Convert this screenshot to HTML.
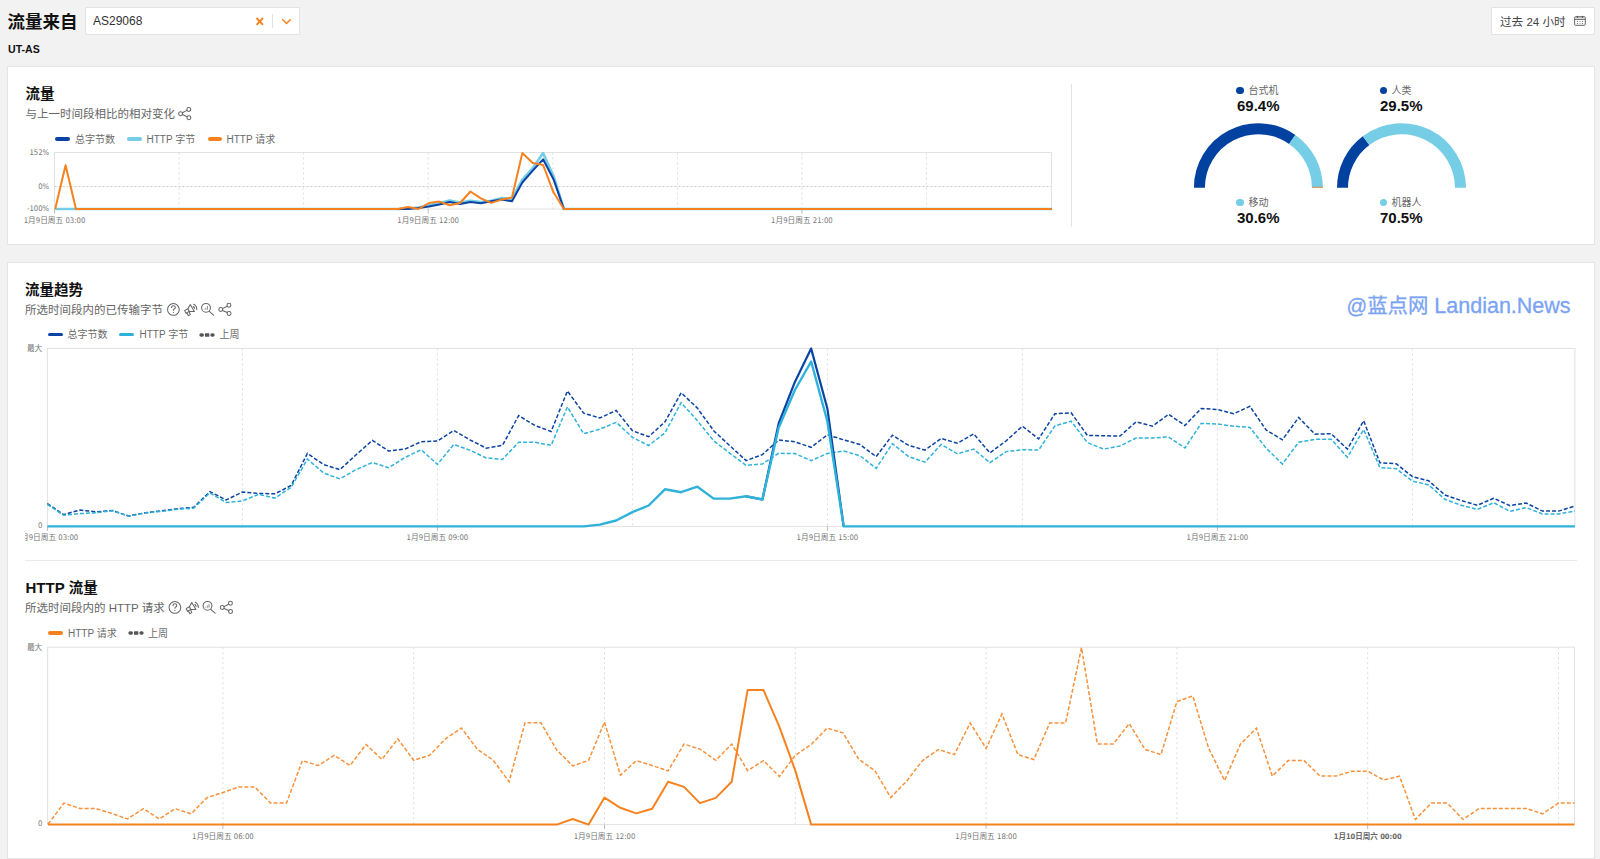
<!DOCTYPE html>
<html lang="zh-CN"><head><meta charset="utf-8"><title>流量来自 AS29068</title>
<style>
*{box-sizing:border-box;margin:0;padding:0}
html,body{width:1600px;height:859px;overflow:hidden;background:#f2f2f2;font-family:"Liberation Sans", "Noto Sans CJK SC", sans-serif;color:#222}
.abs{position:absolute;white-space:nowrap}
.card{position:absolute;left:7px;width:1588px;background:#fff;border:1px solid #e4e4e4}
.h1{font-size:17.5px;font-weight:bold;color:#111;line-height:18px}
.h2{font-size:14.5px;font-weight:bold;color:#111;line-height:14px}
.sub{font-size:11.5px;color:#666;line-height:12px}
.lg{font-size:10px;color:#6a6a6a;line-height:10px}
.sw{position:absolute;height:3.4px;border-radius:2px}
svg.main{position:absolute;left:0;top:0}
svg.main text.ax{font-family:"DejaVu Sans Condensed","DejaVu Sans","Noto Sans CJK SC",sans-serif;font-stretch:condensed;font-size:7.7px;fill:#767676}
svg.main text.ax.b{font-weight:bold;fill:#666;font-size:7.5px}
svg.ic{position:absolute;fill:none;stroke:#555;stroke-width:1.1;stroke-linecap:round;stroke-linejoin:round}
.gl{font-size:10px;color:#666;line-height:10px}
.gv{font-size:15px;font-weight:bold;color:#111;line-height:15px}
.dot{display:inline-block;width:7.5px;height:7.5px;border-radius:50%;margin-right:4.5px;vertical-align:0px}
</style></head><body>
<div class="abs h1" style="left:7.5px;top:13px">流量来自</div>
<div class="abs" style="left:85px;top:7px;width:215px;height:27.5px;background:#fff;border:1px solid #e2e2e2;border-radius:1px"></div>
<div class="abs" style="left:93px;top:14.5px;font-size:12px;line-height:12px;color:#333">AS29068</div>
<svg class="abs" style="left:255px;top:17px" width="10" height="9" viewBox="0 0 10 9"><path d="M1.5 1 L8 7.8 M8 1 L1.5 7.8" stroke="#f6821f" stroke-width="1.9"/></svg>
<div class="abs" style="left:272px;top:13.5px;width:1px;height:14px;background:#e2e2e2"></div>
<svg class="abs" style="left:281px;top:17.5px" width="11" height="7" viewBox="0 0 11 7"><path d="M1.2 1.2 L5.5 5.5 L9.8 1.2" stroke="#f6821f" stroke-width="1.5" fill="none"/></svg>
<div class="abs" style="left:8px;top:44px;font-size:10.6px;font-weight:bold;line-height:11px;color:#111">UT-AS</div>
<div class="abs" style="left:1490.5px;top:7px;width:104px;height:27.5px;background:#fff;border:1px solid #e2e2e2;border-radius:1px"></div>
<div class="abs" style="left:1500px;top:15.6px;font-size:11.6px;line-height:12px;color:#444">过去 24 小时</div>
<div class="card" style="top:66px;height:179px"></div>
<div class="card" style="top:262px;height:597px"></div>
<div class="abs" style="left:1071px;top:84px;width:1px;height:142.5px;background:#e3e3e3"></div>
<div class="abs" style="left:25px;top:559.5px;width:1552px;height:1px;background:#ebebeb"></div>

<div class="abs h2" style="left:25.5px;top:86.8px">流量</div>
<div class="abs sub" style="left:25.5px;top:108.3px">与上一时间段相比的相对变化</div>
<div class="sw" style="left:55px;top:137.3px;width:15px;background:#0a43a3"></div>
<div class="abs lg" style="left:75px;top:135px">总字节数</div>
<div class="sw" style="left:127px;top:137.3px;width:15px;background:#76cde6"></div>
<div class="abs lg" style="left:146.5px;top:135px">HTTP 字节</div>
<div class="sw" style="left:207.5px;top:137.3px;width:14px;background:#f6821f"></div>
<div class="abs lg" style="left:226.5px;top:135px">HTTP 请求</div>

<div class="abs h2" style="left:25px;top:282.8px">流量趋势</div>
<div class="abs sub" style="left:25px;top:304.3px">所选时间段内的已传输字节</div>
<div class="sw" style="left:47.5px;top:332.8px;width:15px;background:#0a43a3"></div>
<div class="abs lg" style="left:67.5px;top:330.3px">总字节数</div>
<div class="sw" style="left:119px;top:332.8px;width:15px;background:#2eb2da"></div>
<div class="abs lg" style="left:139.5px;top:330.3px">HTTP 字节</div>
<svg class="abs" style="left:199px;top:332.6px" width="16" height="4" viewBox="0 0 16 4"><rect x="0.3" y="0.2" width="4.7" height="3.6" rx="1.8" fill="#555"/><rect x="6" y="0.2" width="4.3" height="3.6" rx="0.6" fill="#555"/><rect x="11.3" y="0.2" width="4.4" height="3.6" rx="1.8" fill="#555"/></svg>
<div class="abs lg" style="left:219.5px;top:330.3px">上周</div>

<div class="abs h2" style="left:25.5px;top:580.8px"><span style="font-size:15px">HTTP</span> 流量</div>
<div class="abs sub" style="left:25px;top:602px">所选时间段内的 HTTP 请求</div>
<div class="sw" style="left:48px;top:631.2px;width:14.5px;background:#f6821f"></div>
<div class="abs lg" style="left:68px;top:629px">HTTP 请求</div>
<svg class="abs" style="left:127.8px;top:631px" width="16" height="4" viewBox="0 0 16 4"><rect x="0.3" y="0.2" width="4.7" height="3.6" rx="1.8" fill="#555"/><rect x="6" y="0.2" width="4.3" height="3.6" rx="0.6" fill="#555"/><rect x="11.3" y="0.2" width="4.4" height="3.6" rx="1.8" fill="#555"/></svg>
<div class="abs lg" style="left:148px;top:629px">上周</div>

<svg class="main" width="1600" height="859" viewBox="0 0 1600 859">
<defs><clipPath id="c2c"><rect x="25" y="528" width="1560" height="20"/></clipPath></defs>
<rect x="54.5" y="152.5" width="997.0" height="56.5" fill="none" stroke="#e2e2e2" stroke-width="1"/>
<line x1="179.1" y1="152.5" x2="179.1" y2="209.0" stroke="#dcdcdc" stroke-dasharray="2 3"/>
<line x1="303.6" y1="152.5" x2="303.6" y2="209.0" stroke="#dcdcdc" stroke-dasharray="2 3"/>
<line x1="428.2" y1="152.5" x2="428.2" y2="209.0" stroke="#dcdcdc" stroke-dasharray="2 3"/>
<line x1="552.8" y1="152.5" x2="552.8" y2="209.0" stroke="#dcdcdc" stroke-dasharray="2 3"/>
<line x1="677.4" y1="152.5" x2="677.4" y2="209.0" stroke="#dcdcdc" stroke-dasharray="2 3"/>
<line x1="801.9" y1="152.5" x2="801.9" y2="209.0" stroke="#dcdcdc" stroke-dasharray="2 3"/>
<line x1="926.5" y1="152.5" x2="926.5" y2="209.0" stroke="#dcdcdc" stroke-dasharray="2 3"/>
<line x1="54.5" y1="186.5" x2="1051.5" y2="186.5" stroke="#c8c8c8" stroke-dasharray="2 2"/>
<line x1="54.5" y1="209.0" x2="54.5" y2="213.5" stroke="#bbb"/>
<line x1="428.2" y1="209.0" x2="428.2" y2="213.5" stroke="#bbb"/>
<line x1="801.9" y1="209.0" x2="801.9" y2="213.5" stroke="#bbb"/>
<polyline points="55.20,209.00 65.58,209.00 75.96,209.00 86.34,209.00 96.72,209.00 107.11,209.00 117.49,209.00 127.87,209.00 138.25,209.00 148.63,209.00 159.01,209.00 169.39,209.00 179.77,209.00 190.15,209.00 200.53,209.00 210.92,209.00 221.30,209.00 231.68,209.00 242.06,209.00 252.44,209.00 262.82,209.00 273.20,209.00 283.58,209.00 293.96,209.00 304.34,209.00 314.72,209.00 325.11,209.00 335.49,209.00 345.87,209.00 356.25,209.00 366.63,209.00 377.01,209.00 387.39,209.00 397.77,209.00 408.15,208.50 418.54,207.50 428.92,205.00 439.30,203.00 449.68,200.40 460.06,202.50 470.44,200.80 480.82,202.00 491.20,200.80 501.58,198.00 511.96,198.80 522.35,179.60 532.73,168.20 543.11,153.10 553.49,176.00 563.87,209.00 574.25,209.00 584.63,209.00 595.01,209.00 605.39,209.00 615.77,209.00 626.16,209.00 636.54,209.00 646.92,209.00 657.30,209.00 667.68,209.00 678.06,209.00 688.44,209.00 698.82,209.00 709.20,209.00 719.58,209.00 729.97,209.00 740.35,209.00 750.73,209.00 761.11,209.00 771.49,209.00 781.87,209.00 792.25,209.00 802.63,209.00 813.01,209.00 823.39,209.00 833.78,209.00 844.16,209.00 854.54,209.00 864.92,209.00 875.30,209.00 885.68,209.00 896.06,209.00 906.44,209.00 916.82,209.00 927.20,209.00 937.59,209.00 947.97,209.00 958.35,209.00 968.73,209.00 979.11,209.00 989.49,209.00 999.87,209.00 1010.25,209.00 1020.63,209.00 1031.01,209.00 1041.39,209.00 1051.78,209.00" fill="none" stroke="#76cde6" stroke-width="2.6" stroke-linejoin="round"/>
<polyline points="75.96,209.00 86.34,209.00 96.72,209.00 107.11,209.00 117.49,209.00 127.87,209.00 138.25,209.00 148.63,209.00 159.01,209.00 169.39,209.00 179.77,209.00 190.15,209.00 200.53,209.00 210.92,209.00 221.30,209.00 231.68,209.00 242.06,209.00 252.44,209.00 262.82,209.00 273.20,209.00 283.58,209.00 293.96,209.00 304.34,209.00 314.72,209.00 325.11,209.00 335.49,209.00 345.87,209.00 356.25,209.00 366.63,209.00 377.01,209.00 387.39,209.00 397.77,209.00 408.15,209.00 418.54,208.00 428.92,206.50 439.30,204.50 449.68,202.00 460.06,204.00 470.44,202.00 480.82,203.30 491.20,201.20 501.58,199.60 511.96,201.20 522.35,182.50 532.73,170.70 543.11,159.30 553.49,179.20 563.87,209.00 574.25,209.00 584.63,209.00 595.01,209.00 605.39,209.00 615.77,209.00 626.16,209.00 636.54,209.00 646.92,209.00 657.30,209.00 667.68,209.00 678.06,209.00 688.44,209.00 698.82,209.00 709.20,209.00 719.58,209.00 729.97,209.00 740.35,209.00 750.73,209.00 761.11,209.00 771.49,209.00 781.87,209.00 792.25,209.00 802.63,209.00 813.01,209.00 823.39,209.00 833.78,209.00 844.16,209.00 854.54,209.00 864.92,209.00 875.30,209.00 885.68,209.00 896.06,209.00 906.44,209.00 916.82,209.00 927.20,209.00 937.59,209.00 947.97,209.00 958.35,209.00 968.73,209.00 979.11,209.00 989.49,209.00 999.87,209.00 1010.25,209.00 1020.63,209.00 1031.01,209.00 1041.39,209.00 1051.78,209.00" fill="none" stroke="#0a43a3" stroke-width="2" stroke-linejoin="round"/>
<polyline points="55.20,209.00 65.58,165.20 75.96,209.00 86.34,209.00 96.72,209.00 107.11,209.00 117.49,209.00 127.87,209.00 138.25,209.00 148.63,209.00 159.01,209.00 169.39,209.00 179.77,209.00 190.15,209.00 200.53,209.00 210.92,209.00 221.30,209.00 231.68,209.00 242.06,209.00 252.44,209.00 262.82,209.00 273.20,209.00 283.58,209.00 293.96,209.00 304.34,209.00 314.72,209.00 325.11,209.00 335.49,209.00 345.87,209.00 356.25,209.00 366.63,209.00 377.01,209.00 387.39,209.00 397.77,209.00 408.15,207.00 418.54,209.00 428.92,203.00 439.30,201.60 449.68,205.30 460.06,203.00 470.44,191.50 480.82,198.40 491.20,202.90 501.58,199.60 511.96,197.60 522.35,153.10 532.73,162.90 543.11,165.00 553.49,192.30 563.87,209.00 574.25,209.00 584.63,209.00 595.01,209.00 605.39,209.00 615.77,209.00 626.16,209.00 636.54,209.00 646.92,209.00 657.30,209.00 667.68,209.00 678.06,209.00 688.44,209.00 698.82,209.00 709.20,209.00 719.58,209.00 729.97,209.00 740.35,209.00 750.73,209.00 761.11,209.00 771.49,209.00 781.87,209.00 792.25,209.00 802.63,209.00 813.01,209.00 823.39,209.00 833.78,209.00 844.16,209.00 854.54,209.00 864.92,209.00 875.30,209.00 885.68,209.00 896.06,209.00 906.44,209.00 916.82,209.00 927.20,209.00 937.59,209.00 947.97,209.00 958.35,209.00 968.73,209.00 979.11,209.00 989.49,209.00 999.87,209.00 1010.25,209.00 1020.63,209.00 1031.01,209.00 1041.39,209.00 1051.78,209.00" fill="none" stroke="#f6821f" stroke-width="2" stroke-linejoin="round"/>
<text x="49.2" y="155.2" text-anchor="end" class="ax">152%</text>
<text x="49.2" y="188.9" text-anchor="end" class="ax">0%</text>
<text x="49.2" y="211.3" text-anchor="end" class="ax">-100%</text>
<text x="54.5" y="223.3" text-anchor="middle" class="ax">1月9日周五 03:00</text>
<text x="428.2" y="223.3" text-anchor="middle" class="ax">1月9日周五 12:00</text>
<text x="801.9" y="223.3" text-anchor="middle" class="ax">1月9日周五 21:00</text>
<rect x="47.4" y="348.4" width="1527.5" height="178.0" fill="none" stroke="#e2e2e2"/>
<line x1="242.4" y1="348.4" x2="242.4" y2="526.4" stroke="#dcdcdc" stroke-dasharray="2 3"/>
<line x1="437.4" y1="348.4" x2="437.4" y2="526.4" stroke="#dcdcdc" stroke-dasharray="2 3"/>
<line x1="632.4" y1="348.4" x2="632.4" y2="526.4" stroke="#dcdcdc" stroke-dasharray="2 3"/>
<line x1="827.4" y1="348.4" x2="827.4" y2="526.4" stroke="#dcdcdc" stroke-dasharray="2 3"/>
<line x1="1022.4" y1="348.4" x2="1022.4" y2="526.4" stroke="#dcdcdc" stroke-dasharray="2 3"/>
<line x1="1217.4" y1="348.4" x2="1217.4" y2="526.4" stroke="#dcdcdc" stroke-dasharray="2 3"/>
<line x1="1412.4" y1="348.4" x2="1412.4" y2="526.4" stroke="#dcdcdc" stroke-dasharray="2 3"/>
<line x1="47.4" y1="526.4" x2="47.4" y2="530.9" stroke="#bbb"/>
<line x1="437.4" y1="526.4" x2="437.4" y2="530.9" stroke="#bbb"/>
<line x1="827.4" y1="526.4" x2="827.4" y2="530.9" stroke="#bbb"/>
<line x1="1217.4" y1="526.4" x2="1217.4" y2="530.9" stroke="#bbb"/>
<polyline points="47.40,503.50 63.65,514.60 79.90,510.00 96.15,511.90 112.40,510.60 128.65,516.00 144.90,512.80 161.15,510.90 177.40,508.70 193.65,507.40 209.90,491.60 226.15,500.00 242.40,492.00 258.65,493.50 274.90,493.80 291.15,485.50 307.40,453.40 323.65,464.60 339.90,469.60 356.15,454.70 372.40,440.40 388.65,451.00 404.90,449.10 421.15,441.70 437.40,441.10 453.65,430.50 469.90,439.80 486.15,448.20 502.40,445.40 518.65,415.60 534.90,425.50 551.15,431.50 567.40,391.00 583.65,413.20 599.90,418.00 616.15,410.40 632.40,430.70 648.65,436.70 664.90,421.90 681.15,392.70 697.40,408.10 713.65,430.70 729.90,445.80 746.15,460.60 762.40,454.60 778.65,440.00 794.90,441.80 811.15,447.30 827.40,434.80 843.65,439.80 859.90,444.50 876.15,456.60 892.40,435.20 908.65,445.40 924.90,450.10 941.15,438.50 957.40,443.20 973.65,433.90 989.90,452.90 1006.15,440.80 1022.40,426.20 1038.65,438.90 1054.90,413.80 1071.15,412.80 1087.40,435.50 1103.65,435.70 1119.90,436.10 1136.15,421.80 1152.40,426.20 1168.65,414.30 1184.90,425.50 1201.15,408.50 1217.40,409.50 1233.65,413.80 1249.90,406.30 1266.15,430.00 1282.40,439.80 1298.65,417.50 1314.90,434.20 1331.15,433.70 1347.40,449.10 1363.65,420.70 1379.90,462.70 1396.15,463.70 1412.40,476.60 1428.65,480.80 1444.90,495.00 1461.15,500.50 1477.40,505.30 1493.65,498.20 1509.90,505.60 1526.15,503.00 1542.40,511.10 1558.65,511.10 1574.90,506.10" fill="none" stroke="#0a43a3" stroke-width="1.5" stroke-dasharray="4 2"/>
<polyline points="47.40,504.30 63.65,515.30 79.90,513.60 96.15,512.70 112.40,510.60 128.65,516.20 144.90,513.00 161.15,511.40 177.40,509.30 193.65,508.20 209.90,492.90 226.15,502.60 242.40,500.90 258.65,494.40 274.90,498.10 291.15,487.30 307.40,459.00 323.65,473.00 339.90,478.90 356.15,469.60 372.40,462.50 388.65,467.80 404.90,457.50 421.15,449.70 437.40,464.40 453.65,444.50 469.90,450.10 486.15,457.90 502.40,459.40 518.65,442.30 534.90,442.30 551.15,445.40 567.40,406.90 583.65,433.70 599.90,429.20 616.15,422.30 632.40,437.30 648.65,445.50 664.90,432.90 681.15,402.60 697.40,420.80 713.65,440.70 729.90,453.30 746.15,465.40 762.40,463.90 778.65,453.30 794.90,453.50 811.15,460.70 827.40,453.40 843.65,451.00 859.90,455.70 876.15,468.30 892.40,443.60 908.65,456.60 924.90,462.20 941.15,444.50 957.40,453.80 973.65,449.10 989.90,462.70 1006.15,451.60 1022.40,449.70 1038.65,450.10 1054.90,425.90 1071.15,421.20 1087.40,442.60 1103.65,449.10 1119.90,446.00 1136.15,438.00 1152.40,438.00 1168.65,437.00 1184.90,448.00 1201.15,423.40 1217.40,424.00 1233.65,426.20 1249.90,427.40 1266.15,448.20 1282.40,464.00 1298.65,442.30 1314.90,439.30 1331.15,439.30 1347.40,457.20 1363.65,429.60 1379.90,467.60 1396.15,468.70 1412.40,481.10 1428.65,484.90 1444.90,499.30 1461.15,505.30 1477.40,509.40 1493.65,502.70 1509.90,511.40 1526.15,507.60 1542.40,513.90 1558.65,513.90 1574.90,511.10" fill="none" stroke="#2eb2da" stroke-width="1.5" stroke-dasharray="4 2"/>
<polyline points="746.15,496.30 762.40,499.50 778.65,423.50 794.90,381.90 811.15,348.60 827.40,408.70 843.65,526.40" fill="none" stroke="#0a43a3" stroke-width="2.2" stroke-linejoin="round"/>
<polyline points="47.40,526.40 63.65,526.40 79.90,526.40 96.15,526.40 112.40,526.40 128.65,526.40 144.90,526.40 161.15,526.40 177.40,526.40 193.65,526.40 209.90,526.40 226.15,526.40 242.40,526.40 258.65,526.40 274.90,526.40 291.15,526.40 307.40,526.40 323.65,526.40 339.90,526.40 356.15,526.40 372.40,526.40 388.65,526.40 404.90,526.40 421.15,526.40 437.40,526.40 453.65,526.40 469.90,526.40 486.15,526.40 502.40,526.40 518.65,526.40 534.90,526.40 551.15,526.40 567.40,526.40 583.65,526.40 599.90,524.60 616.15,520.50 632.40,512.10 648.65,505.50 664.90,489.30 681.15,492.20 697.40,486.70 713.65,498.60 729.90,498.60 746.15,496.30 762.40,499.50 778.65,427.80 794.90,390.00 811.15,361.50 827.40,421.50 843.65,526.40 859.90,526.40 876.15,526.40 892.40,526.40 908.65,526.40 924.90,526.40 941.15,526.40 957.40,526.40 973.65,526.40 989.90,526.40 1006.15,526.40 1022.40,526.40 1038.65,526.40 1054.90,526.40 1071.15,526.40 1087.40,526.40 1103.65,526.40 1119.90,526.40 1136.15,526.40 1152.40,526.40 1168.65,526.40 1184.90,526.40 1201.15,526.40 1217.40,526.40 1233.65,526.40 1249.90,526.40 1266.15,526.40 1282.40,526.40 1298.65,526.40 1314.90,526.40 1331.15,526.40 1347.40,526.40 1363.65,526.40 1379.90,526.40 1396.15,526.40 1412.40,526.40 1428.65,526.40 1444.90,526.40 1461.15,526.40 1477.40,526.40 1493.65,526.40 1509.90,526.40 1526.15,526.40 1542.40,526.40 1558.65,526.40 1574.90,526.40" fill="none" stroke="#2eb2da" stroke-width="2.4" stroke-linejoin="round"/>
<text x="42.3" y="351" text-anchor="end" class="ax">最大</text>
<text x="42.3" y="527.8" text-anchor="end" class="ax">0</text>
<text x="47.4" y="540.3" text-anchor="middle" class="ax" clip-path="url(#c2c)">1月9日周五 03:00</text>
<text x="437.4" y="540.3" text-anchor="middle" class="ax" clip-path="url(#c2c)">1月9日周五 09:00</text>
<text x="827.4" y="540.3" text-anchor="middle" class="ax" clip-path="url(#c2c)">1月9日周五 15:00</text>
<text x="1217.4" y="540.3" text-anchor="middle" class="ax" clip-path="url(#c2c)">1月9日周五 21:00</text>
<rect x="47.6" y="647.2" width="1526.9" height="177.39999999999998" fill="none" stroke="#e2e2e2"/>
<line x1="222.9" y1="647.2" x2="222.9" y2="824.6" stroke="#dcdcdc" stroke-dasharray="2 3"/>
<line x1="413.7" y1="647.2" x2="413.7" y2="824.6" stroke="#dcdcdc" stroke-dasharray="2 3"/>
<line x1="604.5" y1="647.2" x2="604.5" y2="824.6" stroke="#dcdcdc" stroke-dasharray="2 3"/>
<line x1="795.3" y1="647.2" x2="795.3" y2="824.6" stroke="#dcdcdc" stroke-dasharray="2 3"/>
<line x1="986.1" y1="647.2" x2="986.1" y2="824.6" stroke="#dcdcdc" stroke-dasharray="2 3"/>
<line x1="1176.9" y1="647.2" x2="1176.9" y2="824.6" stroke="#dcdcdc" stroke-dasharray="2 3"/>
<line x1="1367.7" y1="647.2" x2="1367.7" y2="824.6" stroke="#dcdcdc" stroke-dasharray="2 3"/>
<line x1="1558.5" y1="647.2" x2="1558.5" y2="824.6" stroke="#dcdcdc" stroke-dasharray="2 3"/>
<line x1="222.9" y1="824.6" x2="222.9" y2="829.1" stroke="#bbb"/>
<line x1="604.5" y1="824.6" x2="604.5" y2="829.1" stroke="#bbb"/>
<line x1="986.1" y1="824.6" x2="986.1" y2="829.1" stroke="#bbb"/>
<line x1="1367.7" y1="824.6" x2="1367.7" y2="829.1" stroke="#bbb"/>
<polyline points="48.00,824.20 63.90,803.10 79.80,808.40 95.70,808.40 111.60,813.40 127.50,819.00 143.40,808.70 159.30,819.00 175.20,808.70 191.10,813.80 207.00,797.60 222.90,792.50 238.80,786.90 254.70,786.90 270.60,803.10 286.50,803.10 302.40,760.70 318.30,765.50 334.20,755.30 350.10,765.50 366.00,744.50 381.90,759.40 397.80,738.90 413.70,760.30 429.60,755.30 445.50,738.90 461.40,728.10 477.30,749.10 493.20,760.30 509.10,781.70 525.00,722.70 540.90,722.70 556.80,750.10 572.70,765.90 588.60,760.30 604.50,722.10 620.40,775.20 636.30,760.70 652.20,765.50 668.10,770.90 684.00,744.10 699.90,749.10 715.80,760.30 731.70,744.10 747.60,770.60 763.50,760.70 779.40,776.50 795.30,755.30 811.20,744.50 827.10,728.10 843.00,732.90 858.90,759.50 874.80,770.50 890.70,797.50 906.60,781.20 922.50,760.60 938.40,749.50 954.30,754.60 970.20,723.00 986.10,748.40 1002.00,714.00 1017.90,754.60 1033.80,759.50 1049.70,723.00 1065.60,723.00 1081.50,647.70 1097.40,744.00 1113.30,744.00 1129.20,723.60 1145.10,749.50 1161.00,754.60 1176.90,701.50 1192.80,696.00 1208.70,748.40 1224.60,780.50 1240.50,744.00 1256.40,728.10 1272.30,776.10 1288.20,760.60 1304.10,760.60 1320.00,776.10 1335.90,776.10 1351.80,771.20 1367.70,771.20 1383.60,780.00 1399.50,776.20 1415.40,819.40 1431.30,803.10 1447.20,803.10 1463.10,819.40 1479.00,808.60 1494.90,808.60 1510.80,808.60 1526.70,808.60 1542.60,813.80 1558.50,803.10 1574.40,803.10" fill="none" stroke="#f6821f" stroke-width="1.5" stroke-dasharray="4 2" opacity="0.88"/>
<polyline points="48.00,824.60 63.90,824.60 79.80,824.60 95.70,824.60 111.60,824.60 127.50,824.60 143.40,824.60 159.30,824.60 175.20,824.60 191.10,824.60 207.00,824.60 222.90,824.60 238.80,824.60 254.70,824.60 270.60,824.60 286.50,824.60 302.40,824.60 318.30,824.60 334.20,824.60 350.10,824.60 366.00,824.60 381.90,824.60 397.80,824.60 413.70,824.60 429.60,824.60 445.50,824.60 461.40,824.60 477.30,824.60 493.20,824.60 509.10,824.60 525.00,824.60 540.90,824.60 556.80,824.60 572.70,819.00 588.60,824.60 604.50,797.60 620.40,807.80 636.30,813.40 652.20,808.70 668.10,781.70 684.00,786.90 699.90,803.10 715.80,797.90 731.70,781.70 747.60,690.10 763.50,690.10 779.40,726.80 795.30,770.60 811.20,824.60 827.10,824.60 843.00,824.60 858.90,824.60 874.80,824.60 890.70,824.60 906.60,824.60 922.50,824.60 938.40,824.60 954.30,824.60 970.20,824.60 986.10,824.60 1002.00,824.60 1017.90,824.60 1033.80,824.60 1049.70,824.60 1065.60,824.60 1081.50,824.60 1097.40,824.60 1113.30,824.60 1129.20,824.60 1145.10,824.60 1161.00,824.60 1176.90,824.60 1192.80,824.60 1208.70,824.60 1224.60,824.60 1240.50,824.60 1256.40,824.60 1272.30,824.60 1288.20,824.60 1304.10,824.60 1320.00,824.60 1335.90,824.60 1351.80,824.60 1367.70,824.60 1383.60,824.60 1399.50,824.60 1415.40,824.60 1431.30,824.60 1447.20,824.60 1463.10,824.60 1479.00,824.60 1494.90,824.60 1510.80,824.60 1526.70,824.60 1542.60,824.60 1558.50,824.60 1574.40,824.60" fill="none" stroke="#f6821f" stroke-width="2" stroke-linejoin="round"/>
<text x="42.3" y="649.6" text-anchor="end" class="ax">最大</text>
<text x="42.3" y="826.3" text-anchor="end" class="ax">0</text>
<text x="222.9" y="839.3" text-anchor="middle" class="ax">1月9日周五 06:00</text>
<text x="604.5" y="839.3" text-anchor="middle" class="ax">1月9日周五 12:00</text>
<text x="986.1" y="839.3" text-anchor="middle" class="ax">1月9日周五 18:00</text>
<text x="1367.7" y="839.3" text-anchor="middle" class="ax b">1月10日周六 00:00</text>
<path d="M1199.40,187.80 A59.0,59.0 0 0 1 1292.17,139.42" fill="none" stroke="#0141a0" stroke-width="11.0"/>
<path d="M1292.17,139.42 A59.0,59.0 0 0 1 1317.40,187.80" fill="none" stroke="#76cde6" stroke-width="11.0"/>
<path d="M1342.50,187.80 A59.0,59.0 0 0 1 1366.08,140.62" fill="none" stroke="#0141a0" stroke-width="11.0"/>
<path d="M1366.08,140.62 A59.0,59.0 0 0 1 1460.50,187.80" fill="none" stroke="#76cde6" stroke-width="11.0"/>
<line x1="1312" y1="187.3" x2="1323" y2="187.3" stroke="#f6821f" stroke-width="1" opacity="0.8"/>
<g fill="none" stroke="#666" stroke-width="1"><rect x="1574.6" y="16.7" width="10.7" height="8.6" rx="0.9"/><path d="M1574.6,19.4 H1585.3" /><path d="M1574.6,17.8 H1585.3" stroke="#aaa"/></g><g fill="#555"><rect x="1576.9" y="15.7" width="1" height="2.3" rx="0.5"/><rect x="1582" y="15.7" width="1" height="2.3" rx="0.5"/><circle cx="1577.4" cy="21.5" r="0.55"/><circle cx="1582.5" cy="21.5" r="0.55"/><circle cx="1577.4" cy="23.5" r="0.55"/><circle cx="1582.5" cy="23.5" r="0.55"/><rect x="1579.3" y="21.1" width="1.5" height="0.8" fill="#999"/><rect x="1579.3" y="23.1" width="1.5" height="0.8" fill="#999"/></g>
<g transform="translate(0,0)"><g fill="none" stroke="#666" stroke-width="1.05" stroke-linecap="round" stroke-linejoin="round"><circle cx="173.4" cy="309.4" r="5.85"/><path d="M171.5,307.6 Q171.6,305.8 173.4,305.8 Q175.3,305.8 175.3,307.4 Q175.3,308.4 174.2,308.9 Q173.4,309.3 173.4,310.3"/></g><circle cx="173.4" cy="312.3" r="0.65" fill="#666"/><g fill="none" stroke="#666" stroke-width="1.05" stroke-linecap="round" stroke-linejoin="round"><path d="M190.3,304.6 L194.4,311.5 L189.2,311.4 L187.9,308.7 Z"/><path d="M187.9,308.7 L184.6,310.6 L186.1,313.4 L189.2,311.4"/><path d="M186.8,313 L188.4,315.6 L190.3,314.6 L189.2,312"/><path d="M193.3,306.5 Q194.6,307.3 194.6,308.5"/><path d="M193.7,304.2 Q196.8,305.6 196.8,309.4"/></g><g fill="none" stroke="#666" stroke-width="1.05" stroke-linecap="round" stroke-linejoin="round"><circle cx="206" cy="307.8" r="4.4"/><path d="M209.3,311.3 L213.6,315.2"/></g><path d="M204.3,309.7 V309 M205.9,309.7 V307.6 M207.5,309.7 V306" stroke="#777" stroke-width="0.8"/><g fill="none" stroke="#666" stroke-width="1.05" stroke-linecap="round" stroke-linejoin="round"><circle cx="220.75" cy="309.5" r="1.95"/><circle cx="228.95" cy="305.3" r="1.95"/><circle cx="229.05" cy="313.5" r="1.95"/><path d="M222.55,308.6 L227.15,306.2 M222.55,310.4 L227.25,312.6"/></g></g>
<g transform="translate(1.5,298)"><g fill="none" stroke="#666" stroke-width="1.05" stroke-linecap="round" stroke-linejoin="round"><circle cx="173.4" cy="309.4" r="5.85"/><path d="M171.5,307.6 Q171.6,305.8 173.4,305.8 Q175.3,305.8 175.3,307.4 Q175.3,308.4 174.2,308.9 Q173.4,309.3 173.4,310.3"/></g><circle cx="173.4" cy="312.3" r="0.65" fill="#666"/><g fill="none" stroke="#666" stroke-width="1.05" stroke-linecap="round" stroke-linejoin="round"><path d="M190.3,304.6 L194.4,311.5 L189.2,311.4 L187.9,308.7 Z"/><path d="M187.9,308.7 L184.6,310.6 L186.1,313.4 L189.2,311.4"/><path d="M186.8,313 L188.4,315.6 L190.3,314.6 L189.2,312"/><path d="M193.3,306.5 Q194.6,307.3 194.6,308.5"/><path d="M193.7,304.2 Q196.8,305.6 196.8,309.4"/></g><g fill="none" stroke="#666" stroke-width="1.05" stroke-linecap="round" stroke-linejoin="round"><circle cx="206" cy="307.8" r="4.4"/><path d="M209.3,311.3 L213.6,315.2"/></g><path d="M204.3,309.7 V309 M205.9,309.7 V307.6 M207.5,309.7 V306" stroke="#777" stroke-width="0.8"/><g fill="none" stroke="#666" stroke-width="1.05" stroke-linecap="round" stroke-linejoin="round"><circle cx="220.75" cy="309.5" r="1.95"/><circle cx="228.95" cy="305.3" r="1.95"/><circle cx="229.05" cy="313.5" r="1.95"/><path d="M222.55,308.6 L227.15,306.2 M222.55,310.4 L227.25,312.6"/></g></g>
<g fill="none" stroke="#666" stroke-width="1.05" stroke-linecap="round" stroke-linejoin="round"><circle cx="180.6" cy="113.7" r="1.95"/><circle cx="188.79999999999998" cy="109.5" r="1.95"/><circle cx="188.9" cy="117.7" r="1.95"/><path d="M182.4,112.8 L187.0,110.4 M182.4,114.60000000000001 L187.1,116.8"/></g>
</svg>

<div class="abs gl" style="left:1236.4px;top:86px"><span class="dot" style="background:#0141a0"></span>台式机</div>
<div class="abs gv" style="left:1237px;top:97.5px">69.4%</div>
<div class="abs gl" style="left:1236.4px;top:198px"><span class="dot" style="background:#76cde6"></span>移动</div>
<div class="abs gv" style="left:1237px;top:210px">30.6%</div>
<div class="abs gl" style="left:1379.5px;top:86px"><span class="dot" style="background:#0141a0"></span>人类</div>
<div class="abs gv" style="left:1380px;top:97.5px">29.5%</div>
<div class="abs gl" style="left:1379.5px;top:198px"><span class="dot" style="background:#76cde6"></span>机器人</div>
<div class="abs gv" style="left:1380px;top:210px">70.5%</div>

<div class="abs" style="left:1346.5px;top:295px;font-size:21.5px;line-height:22px;color:#7aa3f3;-webkit-text-stroke:0.3px #7aa3f3"><span style="font-size:20.4px">@蓝点网</span> Landian.News</div>
</body></html>
